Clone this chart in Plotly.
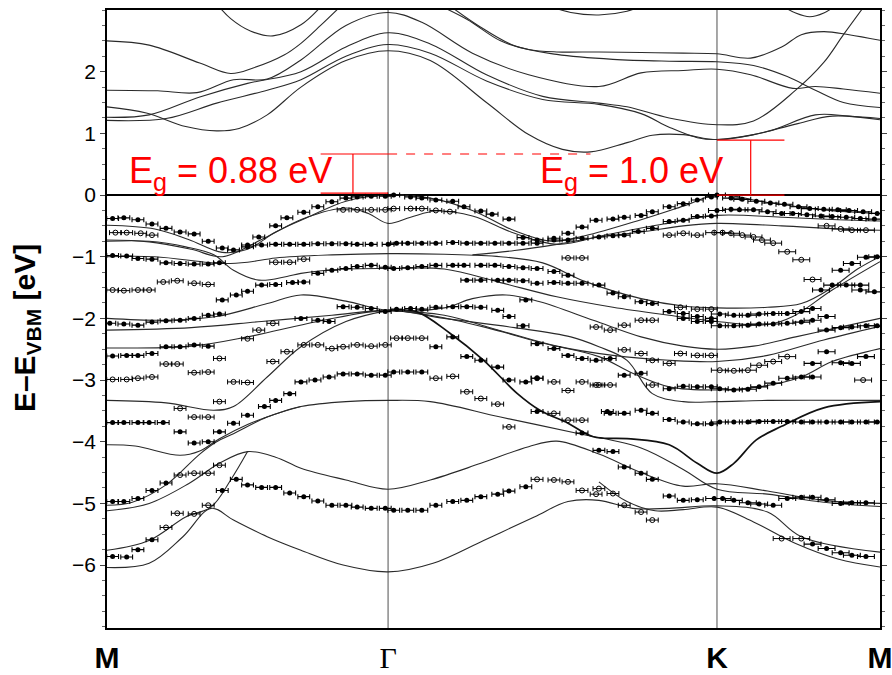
import plotly.graph_objects as go

# ---------------- k-path (high-symmetry points) ----------------
k_ticks = [0.0, 1.0, 2.17, 2.75]
k_labels = ["<b>M</b>", "<span style='font-family:Liberation Serif'>Γ</span>", "<b>K</b>", "<b>M</b>"]
e_ticks = [-6, -5, -4, -3, -2, -1, 0, 1, 2]

# ---------------- conduction bands (k, E) ----------------
cb_a_k = [0.39, 0.44, 0.51, 0.59, 0.69, 0.77]
cb_a_e = [3.1, 2.86, 2.66, 2.58, 2.76, 3.1]
cb_b_k = [0, 0.15, 0.33, 0.44, 0.52, 0.63, 0.69, 0.76, 0.84]
cb_b_e = [2.50, 2.43, 2.14, 1.97, 2.06, 2.27, 2.46, 2.75, 3.1]
cb_c_k = [0, 0.18, 0.32, 0.45, 0.57, 0.69, 0.85, 1.0, 1.12, 1.3, 1.5, 1.75, 1.9, 2.05, 2.17, 2.29, 2.44, 2.52, 2.62, 2.75]
cb_c_e = [1.70, 1.69, 1.66, 1.87, 1.88, 2.19, 2.75, 2.96, 2.80, 2.3, 1.95, 1.76, 1.98, 2.02, 2.04, 1.95, 1.73, 1.76, 1.72, 1.65]
cb_d_k = [0, 0.15, 0.33, 0.5, 0.69, 0.85, 1.0, 1.15, 1.35, 1.55, 1.75, 1.85, 2.0, 2.17, 2.3, 2.45, 2.55, 2.62, 2.7]
cb_d_e = [1.26, 1.30, 1.59, 1.81, 2.0, 2.4, 2.63, 2.45, 1.95, 1.6, 1.49, 1.43, 1.25, 1.14, 1.2, 1.7, 2.15, 2.6, 3.1]
cb_e_k = [0, 0.21, 0.39, 0.57, 0.69, 0.85, 1.0, 1.15, 1.35, 1.55, 1.75, 1.9, 2.0, 2.1, 2.17, 2.3, 2.45, 2.58, 2.75]
cb_e_e = [1.21, 1.24, 1.49, 1.70, 1.87, 2.25, 2.44, 2.3, 1.85, 1.55, 1.47, 1.32, 1.1, 0.93, 0.90, 0.98, 1.15, 1.28, 1.22]
cb_f_k = [0, 0.14, 0.28, 0.39, 0.47, 0.57, 0.69, 0.85, 1.0, 1.15, 1.35, 1.5, 1.62, 1.72, 1.85, 1.94, 2.05, 2.17, 2.35, 2.52, 2.64, 2.75]
cb_f_e = [1.43, 1.33, 1.11, 1.04, 1.08, 1.30, 1.75, 2.18, 2.34, 2.18, 1.5, 0.98, 0.74, 0.70, 0.85, 0.97, 0.98, 0.90, 1.03, 1.30, 1.28, 1.24]
cb_g_k = [1.21, 1.32, 1.45, 1.6, 1.8, 2.0, 2.17, 2.3, 2.42, 2.52, 2.62, 2.75]
cb_g_e = [3.1, 2.75, 2.42, 2.28, 2.2, 2.17, 2.16, 2.1, 1.92, 1.7, 1.5, 1.42]
cb_h_k = [1.17, 1.28, 1.4, 1.5, 1.6, 1.75, 1.9, 2.05, 2.17, 2.29, 2.4, 2.47, 2.55, 2.64, 2.75]
cb_h_e = [3.1, 2.85, 2.5, 2.36, 2.32, 2.32, 2.31, 2.30, 2.29, 2.22, 2.4, 2.6, 2.65, 2.6, 2.51]
cb_i_k = [1.55, 1.65, 1.75, 1.85, 1.92]
cb_i_e = [3.1, 2.96, 2.92, 2.98, 3.1]
cb_j_k = [2.39, 2.45, 2.5, 2.55, 2.6]
cb_j_e = [3.1, 2.95, 2.89, 2.95, 3.1]

# ---------------- valence bands (k, E) ----------------
vb1_k = [0, 0.17, 0.29, 0.41, 0.5, 0.6, 0.72, 0.85, 1.0, 1.15, 1.3, 1.45, 1.58, 1.7, 1.9, 2.05, 2.17, 2.35, 2.55, 2.75]
vb1_e = [-0.49, -0.55, -0.72, -0.93, -0.88, -0.6, -0.35, -0.1, 0, -0.05, -0.25, -0.58, -0.75, -0.66, -0.4, -0.18, 0, -0.12, -0.24, -0.3]
vb2_k = [0, 0.15, 0.3, 0.41, 0.55, 0.7, 0.85, 0.93, 1.0, 1.08, 1.17, 1.3, 1.45, 1.6, 1.78, 1.98, 2.17, 2.4, 2.6, 2.75]
vb2_e = [-0.73, -0.76, -0.88, -1.0, -0.72, -0.38, -0.21, -0.3, -0.46, -0.36, -0.26, -0.34, -0.62, -0.8, -0.64, -0.47, -0.33, -0.36, -0.4, -0.42]
vb3_k = [1.3, 1.45, 1.6, 1.75, 1.9, 2.05, 2.17, 2.4, 2.6, 2.75]
vb3_e = [-0.97, -0.9, -0.8, -0.68, -0.6, -0.5, -0.46, -0.5, -0.55, -0.57]
vb4_k = [0, 0.17, 0.41, 0.5, 0.6, 0.8, 1.0, 1.2, 1.4, 1.55, 1.7, 1.9, 2.05, 2.17, 2.35, 2.47, 2.58, 2.67, 2.75]
vb4_e = [-1.0, -1.0, -1.11, -1.09, -1.02, -0.97, -0.95, -0.96, -1.0, -1.1, -1.4, -1.68, -1.8, -1.83, -1.82, -1.76, -1.5, -1.2, -1.0]
vb5_k = [0, 0.15, 0.28, 0.38, 0.45, 0.54, 0.64, 0.69, 0.85, 1.0, 1.2, 1.4, 1.6, 1.8, 2.0, 2.17, 2.35, 2.44, 2.58, 2.75]
vb5_e = [-0.75, -0.75, -0.84, -0.97, -1.22, -1.38, -1.32, -1.27, -1.2, -1.19, -1.2, -1.42, -1.65, -1.82, -1.95, -2.05, -2.1, -1.97, -1.54, -1.08]
vb6_k = [0, 0.21, 0.39, 0.57, 0.69, 0.85, 1.0, 1.2, 1.3, 1.42, 1.54, 1.73, 1.9, 2.05, 2.17, 2.3, 2.45, 2.6, 2.75]
vb6_e = [-2.0, -2.03, -1.97, -1.76, -1.62, -1.72, -1.87, -1.83, -1.68, -1.62, -1.73, -2.03, -2.3, -2.45, -2.5, -2.45, -2.3, -2.15, -2.0]
vb7_k = [0, 0.3, 0.55, 0.8, 1.0, 1.15, 1.35, 1.55, 1.75, 1.87, 2.0, 2.17, 2.32, 2.47, 2.58, 2.75]
vb7_e = [-2.19, -2.15, -2.05, -1.95, -1.87, -1.95, -2.15, -2.4, -2.62, -2.89, -3.11, -3.16, -3.11, -2.95, -2.7, -2.49]
vb8a_k = [0, 0.21, 0.38, 0.45, 0.57, 0.69, 0.85, 1.0]
vb8a_e = [-3.33, -3.37, -3.49, -3.43, -2.95, -2.46, -2.05, -1.87]
vb8b_k = [1.0, 1.1, 1.22, 1.34, 1.46, 1.54, 1.64, 1.73, 1.85, 2.0, 2.1, 2.17, 2.23, 2.31, 2.4, 2.55, 2.75]
vb8b_e = [-1.87, -1.89, -2.24, -2.68, -3.22, -3.49, -3.7, -3.92, -3.95, -4.05, -4.35, -4.51, -4.35, -3.97, -3.75, -3.45, -3.35]
vb9_k = [0, 0.3, 0.5, 0.75, 1.0, 1.2, 1.45, 1.65, 1.75, 1.85, 1.94, 2.05, 2.17, 2.35, 2.75]
vb9_e = [-2.48, -2.45, -2.3, -2.05, -1.87, -2.0, -2.15, -2.3, -2.46, -2.68, -3.22, -3.35, -3.35, -3.33, -3.33]
vb10_k = [1.0, 1.2, 1.4, 1.6, 1.8, 2.0, 2.17, 2.35, 2.55, 2.75]
vb10_e = [-1.87, -1.95, -2.2, -2.45, -2.6, -2.68, -2.7, -2.6, -2.35, -2.13]
vb11_k = [0, 0.1, 0.26, 0.33, 0.4, 0.5, 0.6, 0.69, 0.85, 1.0, 1.15, 1.4, 1.68, 1.9, 2.05, 2.17, 2.35, 2.55, 2.75]
vb11_e = [-4.05, -4.07, -4.22, -4.15, -3.95, -3.72, -3.55, -3.43, -3.35, -3.33, -3.35, -3.6, -3.87, -4.1, -4.45, -4.77, -4.85, -4.98, -5.05]
vb12_k = [0, 0.09, 0.21, 0.33, 0.39, 0.45, 0.57, 0.69]
vb12_e = [-5.03, -4.98, -4.7, -4.2, -4.0, -3.87, -3.6, -3.43]
vb13_k = [0, 0.15, 0.29, 0.4, 0.5, 0.6, 0.69, 0.85, 1.0, 1.15, 1.33, 1.5, 1.6, 1.75, 1.9, 2.05, 2.17, 2.35, 2.55, 2.75]
vb13_e = [-5.12, -5.0, -4.68, -4.35, -4.16, -4.25, -4.43, -4.62, -4.77, -4.62, -4.35, -4.08, -3.99, -4.2, -4.5, -4.72, -4.68, -4.8, -4.95, -5.0]
vb15_k = [0, 0.15, 0.28, 0.37, 0.44, 0.5]
vb15_e = [-5.76, -5.6, -5.22, -5.06, -4.62, -4.16]
vb16_k = [0, 0.15, 0.27, 0.37, 0.45, 0.57, 0.69, 0.84, 1.0, 1.16, 1.34, 1.52, 1.64, 1.75, 1.87, 2.0, 2.17, 2.35, 2.47, 2.75]
vb16_e = [-6.04, -5.97, -5.54, -5.08, -5.27, -5.54, -5.76, -6.0, -6.11, -5.97, -5.6, -5.22, -4.97, -4.95, -5.08, -5.08, -5.04, -5.14, -5.54, -5.79]
vb17_k = [1.75, 1.85, 1.95, 2.05, 2.17, 2.3, 2.45, 2.6, 2.75]
vb17_e = [-4.65, -4.97, -5.12, -5.1, -5.06, -5.3, -5.65, -5.9, -6.03]

# ---------------- ARPES data points ----------------
filled_k = (
    [0.02, 0.06, 0.11, 0.16, 0.21, 0.26, 0.31, 0.36, 0.41, 0.45, 0.50, 0.54, 0.60, 0.64, 0.70, 0.75, 0.80, 0.85, 0.89, 0.94, 0.99]
    + [1.02, 1.08, 1.12, 1.17, 1.23, 1.27, 1.33, 1.37, 1.43, 1.48, 1.53, 1.59, 1.64, 1.69, 1.74, 1.80, 1.84, 1.90, 1.94, 2.00, 2.05, 2.10, 2.15]
    + [2.17, 2.22, 2.26, 2.31, 2.36, 2.41, 2.46, 2.50, 2.55, 2.60, 2.64, 2.69, 2.74]
    + [2.17, 2.22, 2.25, 2.30, 2.35, 2.40, 2.44, 2.49, 2.54, 2.58, 2.63, 2.68, 2.73]
    + [0.02, 0.07, 0.11, 0.16, 0.21, 0.26, 0.31, 0.36, 0.40]
    + [0.50, 0.55, 0.60, 0.65, 0.70, 0.75, 0.80, 0.85, 0.89, 0.94, 1.00, 1.03, 1.07, 1.12, 1.17, 1.23, 1.28, 1.33, 1.38, 1.43, 1.48, 1.53]
    + [1.59, 1.64, 1.69, 1.75, 1.80, 1.84, 1.89, 1.94, 2.00, 2.05, 2.10, 2.15]
    + [0.41, 0.46, 0.50, 0.55, 0.60, 0.66, 0.70, 0.75, 0.80, 0.85, 0.89, 0.94, 0.99]
    + [1.02, 1.07, 1.12, 1.17, 1.23, 1.27, 1.33, 1.38, 1.43, 1.48, 1.53, 1.59, 1.64, 1.69, 1.75, 1.80, 1.84, 1.90, 1.94, 2.00, 2.05, 2.10, 2.15]
    + [1.28, 1.33, 1.39, 1.43, 1.48, 1.53, 1.59, 1.64, 1.49]
    + [0.01, 0.06, 0.11, 0.16, 0.21, 0.26, 0.31, 0.36, 0.40, 0.69, 0.75, 0.79]
    + [0.84, 0.89, 0.94, 0.99, 1.03, 1.08, 1.12, 1.17, 1.23]
    + [1.28, 1.33, 1.39, 1.43, 1.48, 1.53, 1.59, 1.64, 1.69, 1.74]
    + [0.02, 0.07, 0.11, 0.16, 0.21, 0.26, 0.31, 0.36]
    + [0.02, 0.06, 0.11, 0.15, 0.20, 0.26, 0.31, 0.36, 0.40, 0.45, 0.50, 0.56, 0.60, 0.65]
    + [0.69, 0.74, 0.79, 0.84, 0.89, 0.94, 0.99, 1.02, 1.07, 1.12]
    + [1.17, 1.23, 1.28, 1.33, 1.39, 1.43, 1.49, 1.53, 1.53, 1.69]
    + [1.78, 1.79, 1.84, 1.90, 1.94, 2.00, 2.05, 2.10, 2.15]
    + [2.18, 2.23, 2.28, 2.32, 2.37, 2.42, 2.47, 2.51, 2.56, 2.61, 2.65, 2.70, 2.74]
    + [2.00, 2.05, 2.10, 2.15, 2.18, 2.23, 2.28, 2.32, 2.37, 2.42, 2.47, 2.51]
    + [2.51, 2.56, 2.61, 2.65, 2.70, 1.79, 1.84, 1.90]
    + [2.05, 2.10, 2.15, 2.18, 2.23, 2.28, 2.32, 2.37, 2.42, 2.47, 2.51, 2.56, 2.61, 2.65, 2.70, 2.74]
    + [2.18, 2.23, 2.28, 2.32, 2.37, 2.42, 2.47, 2.51, 2.56]
    + [2.54, 2.58, 2.63, 2.68, 2.61, 2.65, 2.70, 2.74, 2.68, 2.73]
    + [0.02, 0.06, 0.11, 0.16, 0.21, 0.41, 0.46, 0.50, 0.55, 0.60, 0.65]
    + [0.70, 0.75, 0.80, 0.85, 0.89, 0.94, 0.99, 1.02, 1.07, 1.12, 1.17, 1.23, 1.28, 1.33, 1.39, 1.43, 1.49]
    + [1.75, 1.80, 1.84, 1.90, 1.94, 2.00, 2.05, 2.10, 2.16, 2.19, 2.23, 2.28, 2.32, 2.37, 2.42, 2.47, 2.51, 2.56, 2.61, 2.65, 2.70]
    + [0.02, 0.07, 0.11, 0.16, 2.51, 2.56, 2.61, 2.65, 2.70]
)
filled_e = (
    [-0.38, -0.37, -0.40, -0.47, -0.54, -0.60, -0.63, -0.75, -0.86, -0.89, -0.84, -0.68, -0.50, -0.37, -0.28, -0.19, -0.11, -0.05, -0.03, -0.02, -0.02]
    + [0, -0.03, -0.05, -0.08, -0.10, -0.19, -0.26, -0.31, -0.39, -0.69, -0.73, -0.70, -0.62, -0.52, -0.41, -0.39, -0.36, -0.33, -0.27, -0.19, -0.14, -0.08, -0.03]
    + [0, -0.05, -0.07, -0.10, -0.13, -0.15, -0.19, -0.22, -0.23, -0.24, -0.25, -0.27, -0.30]
    + [-0.25, -0.23, -0.24, -0.24, -0.27, -0.30, -0.30, -0.32, -0.34, -0.35, -0.36, -0.38, -0.39]
    + [-0.98, -0.99, -1.03, -1.04, -1.10, -1.11, -1.12, -1.12, -1.10]
    + [-0.81, -0.81, -0.80, -0.80, -0.80, -0.79, -0.79, -0.79, -0.80, -0.80, -0.80, -0.78, -0.78, -0.78, -0.78, -0.77, -0.78, -0.78, -0.78, -0.78, -0.78, -0.78]
    + [-0.73, -0.73, -0.70, -0.68, -0.66, -0.65, -0.59, -0.54, -0.43, -0.41, -0.35, -0.34]
    + [-1.70, -1.62, -1.56, -1.46, -1.45, -1.42, -1.41, -1.27, -1.22, -1.19, -1.16, -1.14, -1.17]
    + [-1.19, -1.18, -1.16, -1.14, -1.14, -1.14, -1.14, -1.14, -1.16, -1.18, -1.19, -1.24, -1.30, -1.43, -1.46, -1.59, -1.65, -1.73, -1.76, -1.89, -1.92, -1.97, -2.0]
    + [-1.38, -1.38, -1.38, -1.38, -1.39, -1.43, -1.42, -1.43, -1.70]
    + [-2.08, -2.09, -2.11, -2.06, -2.04, -2.03, -2.0, -1.95, -1.93, -2.0, -2.03, -2.05]
    + [-1.81, -1.82, -1.84, -1.89, -1.85, -1.84, -1.85, -1.82, -1.81]
    + [-1.81, -1.82, -1.87, -1.97, -2.12, -2.41, -2.49, -2.60, -2.65, -2.68]
    + [-2.61, -2.60, -2.60, -2.57, -2.46, -2.46, -2.43, -2.45]
    + [-3.69, -3.69, -3.69, -3.69, -3.69, -3.84, -4.02, -4.0, -3.84, -3.70, -3.57, -3.43, -3.33, -3.22]
    + [-3.03, -3.0, -2.95, -2.90, -2.90, -2.92, -2.92, -2.87, -2.87, -2.87]
    + [-2.46, -2.30, -2.62, -2.68, -2.79, -3.0, -3.03, -2.97, -3.51, -3.86]
    + [-3.51, -3.54, -3.54, -3.49, -3.54, -3.64, -3.68, -3.71, -3.71]
    + [-3.68, -3.68, -3.68, -3.67, -3.67, -3.67, -3.68, -3.68, -3.68, -3.68, -3.68, -3.68, -3.68]
    + [-3.14, -3.10, -3.11, -3.11, -3.14, -3.16, -3.15, -3.11, -3.05, -2.97, -2.95, -2.95]
    + [-2.73, -2.54, -2.72, -2.73, -2.62, -2.65, -2.92, -2.89]
    + [-2.0, -2.05, -2.05, -2.12, -2.12, -2.11, -2.09, -2.09, -2.08, -2.06, -2.03, -2.19, -2.15, -2.14, -2.12, -2.12]
    + [-1.93, -1.95, -1.95, -1.93, -1.92, -1.92, -1.89, -1.84, -1.97]
    + [-1.54, -1.46, -1.46, -1.46, -1.22, -1.11, -1.01, -1.0, -1.54, -1.57]
    + [-4.97, -4.97, -4.92, -4.79, -4.67, -4.79, -4.61, -4.70, -4.74, -4.74, -4.83]
    + [-4.89, -4.96, -5.03, -5.03, -5.06, -5.08, -5.08, -5.11, -5.11, -5.11, -5.03, -4.97, -4.95, -4.89, -4.85, -4.80, -4.73]
    + [-4.14, -4.16, -4.41, -4.51, -4.61, -4.88, -4.95, -4.94, -4.92, -4.92, -4.95, -4.99, -5.01, -5.03, -4.92, -4.90, -4.90, -4.94, -5.0, -4.99, -4.99]
    + [-5.86, -5.87, -5.75, -5.59, -5.66, -5.73, -5.80, -5.84, -5.86]
)

open_k = (
    [0.03, 0.07, 0.12, 0.16]
    + [0.84, 0.89, 0.94, 0.99, 1.02, 1.08, 1.12, 1.17, 1.22]
    + [0.60, 0.65, 0.70, 1.64, 1.69]
    + [2.00, 2.05, 2.10, 2.16, 2.19, 2.22, 2.26, 2.30, 2.33, 2.37, 2.42, 2.47, 2.51]
    + [2.56, 2.61, 2.65, 2.70]
    + [0.02, 0.06, 0.11, 0.15, 0.20, 0.25, 0.31, 0.36]
    + [0.02, 0.07, 0.11, 0.16]
    + [0.21, 0.25, 0.31, 0.36, 0.40, 0.45, 0.50, 0.50, 0.54, 0.59, 0.59, 0.64, 0.40, 0.31, 0.36, 0.26]
    + [0.70, 0.75, 0.80, 0.84, 0.89, 0.94, 0.99, 1.03, 1.07, 1.12]
    + [1.17, 1.23, 1.28, 1.33, 1.39, 1.43, 1.53, 1.59, 1.64, 1.69, 1.74]
    + [1.74, 1.59, 1.64, 1.69]
    + [1.75, 1.79, 1.94]
    + [2.18, 2.23, 2.28, 2.32, 2.37, 2.42]
    + [2.04, 2.10, 2.15, 1.84, 1.90, 1.94, 2.00]
    + [2.04, 2.10, 2.15, 1.79, 1.84, 1.90, 1.94, 2.69]
    + [0.26, 0.31, 0.36, 0.40, 0.21, 0.25, 0.31, 0.36]
    + [1.53, 1.59, 1.64, 1.69, 1.74, 1.75, 1.80, 1.84, 1.90, 1.94, 2.40, 2.47]
)
open_e = (
    [-0.61, -0.61, -0.62, -0.65]
    + [-0.24, -0.24, -0.24, -0.24, -0.22, -0.22, -0.22, -0.25, -0.27]
    + [-1.09, -1.09, -1.04, -1.02, -1.02]
    + [-0.65, -0.62, -0.65, -0.61, -0.61, -0.62, -0.65, -0.68, -0.73, -0.78, -0.92, -1.05, -1.37]
    + [-0.50, -0.55, -0.57, -0.57]
    + [-1.54, -1.55, -1.54, -1.54, -1.41, -1.39, -1.43, -1.45]
    + [-2.99, -2.99, -2.97, -2.95]
    + [-2.74, -2.74, -2.88, -2.87, -2.65, -3.03, -3.04, -2.33, -2.19, -2.08, -2.70, -2.54, -3.35, -3.60, -3.60, -3.46]
    + [-2.43, -2.43, -2.49, -2.46, -2.43, -2.45, -2.43, -2.32, -2.32, -2.32]
    + [-2.97, -2.94, -3.19, -3.30, -3.39, -3.76, -2.97, -3.03, -3.17, -3.03, -3.08]
    + [-2.14, -3.54, -3.65, -3.65]
    + [-3.08, -3.08, -3.08]
    + [-2.84, -2.85, -2.84, -2.76, -2.70, -2.62]
    + [-2.57, -2.60, -2.60, -2.51, -2.57, -2.68, -2.73]
    + [-1.82, -1.85, -1.85, -2.19, -2.11, -2.03, -2.03, -3.0]
    + [-4.54, -4.51, -4.51, -4.38, -5.39, -5.16, -5.17, -5.03]
    + [-4.61, -4.62, -4.65, -4.79, -4.85, -4.76, -4.84, -5.03, -5.14, -5.27, -5.57, -5.57]
)

thin_bands = [
    (cb_a_k, cb_a_e), (cb_b_k, cb_b_e), (cb_c_k, cb_c_e), (cb_d_k, cb_d_e), (cb_e_k, cb_e_e),
    (cb_f_k, cb_f_e), (cb_g_k, cb_g_e), (cb_h_k, cb_h_e), (cb_i_k, cb_i_e), (cb_j_k, cb_j_e),
    (vb1_k, vb1_e), (vb2_k, vb2_e), (vb3_k, vb3_e), (vb4_k, vb4_e), (vb5_k, vb5_e),
    (vb6_k, vb6_e), (vb7_k, vb7_e), (vb8a_k, vb8a_e), (vb9_k, vb9_e), (vb10_k, vb10_e),
    (vb11_k, vb11_e), (vb12_k, vb12_e), (vb13_k, vb13_e), (vb15_k, vb15_e), (vb16_k, vb16_e), (vb17_k, vb17_e),
]
bold_bands = [(vb8b_k, vb8b_e)]

fig = go.Figure()
for bk, be in thin_bands:
    fig.add_trace(go.Scatter(x=bk, y=be, mode="lines", line=dict(color="#2a2a2a", width=1.1, shape="spline", smoothing=1.0),
                             hoverinfo="skip", showlegend=False))
for bk, be in bold_bands:
    fig.add_trace(go.Scatter(x=bk, y=be, mode="lines", line=dict(color="#111", width=1.7, shape="spline", smoothing=1.0),
                             hoverinfo="skip", showlegend=False))

err_f = [0.03 if k >= 2.16 else 0.021 for k in filled_k]
err_o = [0.03 if k >= 2.16 else 0.021 for k in open_k]
fig.add_trace(go.Scatter(x=filled_k, y=filled_e, mode="markers",
                         marker=dict(symbol="circle", size=5, color="black"),
                         error_x=dict(type="data", array=err_f, color="black", thickness=1.1, width=2.5),
                         showlegend=False))
fig.add_trace(go.Scatter(x=open_k, y=open_e, mode="markers",
                         marker=dict(symbol="circle-open", size=5, color="black", line=dict(width=1)),
                         error_x=dict(type="data", array=err_o, color="black", thickness=1.0, width=2.5),
                         showlegend=False))

# vertical high-symmetry lines
for kv in [k_ticks[1], k_ticks[2]]:
    fig.add_shape(type="line", x0=kv, x1=kv, y0=0, y1=1, xref="x", yref="paper",
                  line=dict(color="#8a8a8a", width=1.5), layer="below")

# band-gap brackets (red)
red = "#ff0000"
gap_left_top = 0.665
gap_right_top = 0.89
for x0, x1, y in [(0.76, 1.0, gap_left_top), (0.76, 1.0, 0.03), (2.17, 2.41, gap_right_top), (2.17, 2.41, 0.0)]:
    fig.add_shape(type="line", x0=x0, x1=x1, y0=y, y1=y, line=dict(color=red, width=1.2))
fig.add_shape(type="line", x0=0.875, x1=0.875, y0=0.03, y1=gap_left_top, line=dict(color=red, width=1.2))
fig.add_shape(type="line", x0=2.29, x1=2.29, y0=0.0, y1=gap_right_top, line=dict(color=red, width=1.2))
fig.add_shape(type="line", x0=1.0, x1=1.72, y0=gap_left_top, y1=gap_left_top, line=dict(color=red, width=1.2, dash="dash"))

fig.add_annotation(x=0.07, y=-0.05, xref="x", yref="y", text="E<sub>g</sub> = 0.88 eV", showarrow=False,
                   xanchor="left", yanchor="bottom", font=dict(family="Liberation Sans, Arial", size=36, color=red))
fig.add_annotation(x=1.535, y=-0.05, xref="x", yref="y", text="E<sub>g</sub> = 1.0 eV", showarrow=False,
                   xanchor="left", yanchor="bottom", font=dict(family="Liberation Sans, Arial", size=36, color=red))

# y-axis title (placed as rotated annotation to match the reference position)
fig.add_annotation(x=-0.105, y=0.485, xref="paper", yref="paper", text="<b>E–E<sub>VBM</sub> [eV]</b>",
                   textangle=-90, showarrow=False, xanchor="center", yanchor="middle",
                   font=dict(family="Liberation Sans, Arial", size=30, color="black"))

fig.update_layout(
    width=892, height=675,
    margin=dict(l=107, r=12, t=10, b=47),
    paper_bgcolor="white", plot_bgcolor="white",
    font=dict(family="Liberation Sans, Arial", color="black"),
)
fig.update_xaxes(range=[0, 2.75], tickvals=k_ticks, ticktext=k_labels, ticks="", showgrid=False, zeroline=False,
                 showline=True, linecolor="black", linewidth=1.6, mirror=True, automargin=False,
                 ticklabelstandoff=2, ticklabeloverflow="allow",
                 tickfont=dict(size=30, family="Liberation Sans, Arial", color="black"))
fig.update_yaxes(range=[-7.02, 3.0], tickvals=e_ticks, ticks="outside", ticklen=5, tickwidth=1.2, tickcolor="#444",
                 minor=dict(dtick=0.25, tick0=0, ticks="outside", ticklen=3, tickcolor="#666", tickwidth=1),
                 showgrid=False, zeroline=True, zerolinecolor="black", zerolinewidth=2,
                 showline=True, linecolor="black", linewidth=1.6, mirror="ticks", automargin=False,
                 tickfont=dict(size=21, family="Liberation Sans, Arial", color="black"))

fig.write_html("out.html")
